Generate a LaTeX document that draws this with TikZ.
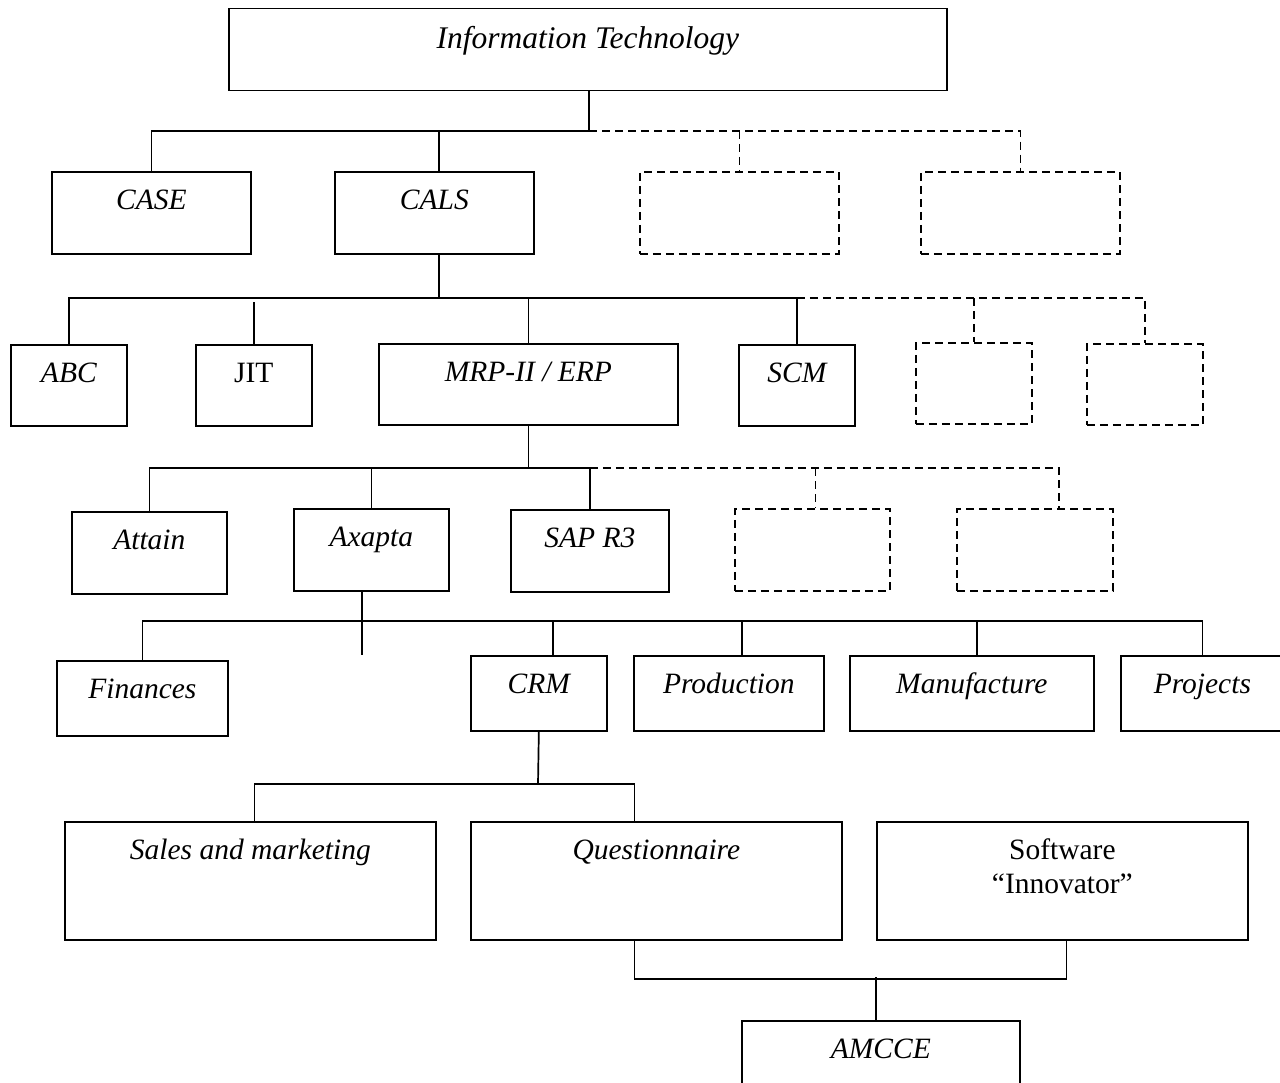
\documentclass[tikz,border=0pt]{standalone}
\usepackage{fontspec}
\setmainfont{Liberation Serif}
\begin{document}
\begin{tikzpicture}[x=1pt,y=-1pt,line width=1.7pt,
    every node/.style={font=\fontsize{29.5}{34}\selectfont\itshape},
    box/.style={draw,anchor=north west,inner xsep=0pt,inner ysep=8pt,text height=30pt},
    blank/.style={box,dash pattern=on 8pt off 5pt},
    upright/.style={font=\fontsize{29.5}{34}\selectfont},
    guess/.style={dash pattern=on 8pt off 5pt}]
  \useasboundingbox (0,0) rectangle (1280,1083);
  \clip (0,0) rectangle (1280,1083);
  % levels
  \node [box,minimum width=718,text height=32pt,text depth=34pt,font=\fontsize{31.5}{36}\selectfont\itshape] (it) at (228,7.6) {Information Technology};
  \node [box,minimum width=199,text depth=36pt] (case) at (51,171) {CASE};
  \node [box,minimum width=199,text depth=36pt] (cals) at (334,171) {CALS};
  \node [blank,minimum width=199,text depth=36pt] (newA) at (639,171) {};
  \node [blank,minimum width=199,text depth=36pt] (newB) at (920,171) {};
  \node [box,minimum width=116,text depth=35pt] (abc) at (10,344) {ABC};
  \node [box,upright,minimum width=116,text depth=35pt] (jit) at (195,344) {JIT};
  \node [box,minimum width=299,text depth=35pt] (mrp) at (378,343) {MRP-II / ERP};
  \node [box,minimum width=116,text depth=35pt] (scm) at (738,344) {SCM};
  \node [blank,minimum width=116,text depth=35pt] (newC) at (915,342) {};
  \node [blank,minimum width=116,text depth=35pt] (newD) at (1086,343) {};
  \node [box,minimum width=155,text depth=36pt] (attain) at (71,511) {Attain};
  \node [box,minimum width=155,text depth=36pt] (axapta) at (293,508) {Axapta};
  \node [box,minimum width=158,text depth=36pt] (sap) at (510,509) {SAP R3};
  \node [blank,minimum width=155,text depth=36pt] (newE) at (734,508) {};
  \node [blank,minimum width=156,text depth=36pt] (newF) at (956,508) {};
  \node [box,minimum width=171,text depth=29pt] (fin) at (56,660) {Finances};
  \node [box,minimum width=136,text depth=29pt] (crm) at (470,655) {CRM};
  \node [box,minimum width=190,text depth=29pt] (prod) at (633,655) {Production};
  \node [box,minimum width=244,text depth=29pt] (manuf) at (849,655) {Manufacture};
  \node [box,minimum width=163,text depth=29pt] (proj) at (1120,655) {Projects};
  \node [box,minimum width=371,text depth=72pt] (sales) at (64,821) {Sales and marketing};
  \node [box,minimum width=371,text depth=72pt] (quest) at (470,821) {Questionnaire};
  \node [box,upright,minimum width=371,text depth=72pt] (soft) at (876,821) {\begin{tabular}[t]{@{}c@{}}Software\\“Innovator”\end{tabular}};
  \node [box,minimum width=278,text depth=54pt] (amcce) at (741,1020) {AMCCE};
  % buses
  \coordinate (b1) at (589,131);
  \coordinate (b2) at (439,298);
  \coordinate (b3) at (527,468);
  \coordinate (b4) at (362,621);
  \coordinate (b5) at (538,784);
  \coordinate (b6) at (876,977);
  \coordinate (stub) at (362,655);
  % first level
  \draw (it.south -| b1) -- (b1);
  \draw (case.north) |- (b1);
  \draw (b1 -| b2) -- (cals.north -| b2);
  \draw [guess] (b1) -| (newB.north);
  \draw [guess] (b1 -| newA.north) -- (newA.north);
  % second level
  \draw (cals.south -| b2) -- (b2);
  \draw (abc.north) |- (scm.north |- b2) -- (scm.north);
  \draw (jit.north) -- ++(0,-42);
  \draw (mrp.north |- b2) -- (mrp.north);
  \draw [guess] (scm.north |- b2) -| (newD.north);
  \draw [guess] (newC.north |- b2) -- (newC.north);
  % third level
  \draw (mrp.south) -- (mrp.south |- b3);
  \draw (attain.north) |- (sap.north |- b3) -- (sap.north);
  \draw (axapta.north |- b3) -- (axapta.north);
  \draw [guess] (sap.north |- b3) -| ([xshift=24]newF.north);
  \draw [guess] ([xshift=3]newE.north |- b3) -- ([xshift=3]newE.north);
  % modules
  \draw (axapta.south -| b4) -- (stub);
  \draw (fin.north) |- (proj.north |- b4) -- (proj.north);
  \draw ([xshift=14]crm.north) -- ++(0,-34);
  \draw ([xshift=13]prod.north) -- ++(0,-34);
  \draw ([xshift=5]manuf.north) -- ++(0,-34);
  % CRM
  \draw (crm.south) -- (b5);
  \draw ([xshift=4]sales.north) -- ++(0,-37) -| ([xshift=-22]quest.north);
  \draw ([xshift=-22]quest.south) -- ++(0,38) -| ([xshift=4]soft.south);
  \draw (b6) -- (amcce.north -| b6);
\end{tikzpicture}
\end{document}
